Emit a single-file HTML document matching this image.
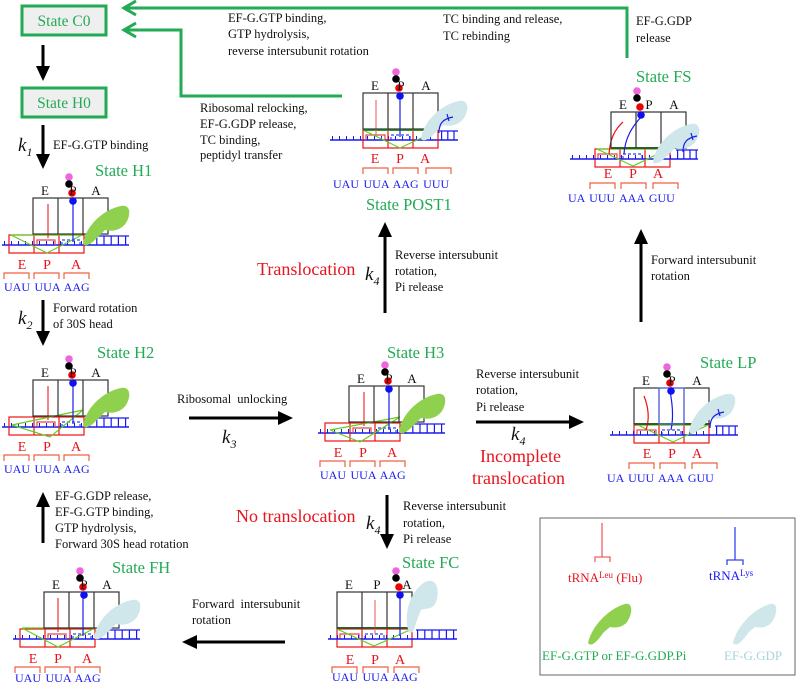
<!DOCTYPE html>
<html><head><meta charset="utf-8"><style>
html,body{margin:0;padding:0;background:#fff;}
svg{display:block;font-family:"Liberation Serif",serif;}
.t{font-size:12.5px;fill:#111;}
.st{font-size:16.5px;fill:#22aa55;}
.red{font-size:18px;fill:#e8141e;}
.k{font-size:19px;font-style:italic;fill:#111;}
.ks{font-size:12px;fill:#111;}
.lab{font-size:14px;fill:#e8141e;text-anchor:middle;}
.cod{font-size:12px;fill:#1a1aee;word-spacing:1.5px;}
.epa{font-size:13px;fill:#111;text-anchor:middle;}
</style></head><body>
<svg width="796" height="686" viewBox="0 0 796 686" xmlns="http://www.w3.org/2000/svg">
<defs>
<g id="box" fill="none" stroke="#333" stroke-width="1.2"><rect x="0" y="0" width="75" height="36"/><line x1="25" y1="0" x2="25" y2="36"/><line x1="50" y1="0" x2="50" y2="36"/></g>
<g id="balls"><circle cx="36" cy="-21" r="3.8" fill="#ee66dd"/><circle cx="36" cy="-14" r="3.8" fill="#000"/><circle cx="39" cy="-5" r="3.8" fill="#ee0000"/><circle cx="40" cy="3" r="3.8" fill="#1010ee"/></g>
<path id="blob" d="M50,46 C52,30 68,12 88,8 C98,6 98,17 93,25 C88,32 80,34 72,32 L66,38 C60,44 54,50 50,46Z"/>
<g id="brk" fill="none" stroke="#f06040" stroke-width="1.2"><path d="M-29,81 V75 H-4 V81 M1,81 V75 H26 V81 M31,81 V75 H56 V81"/></g>
<g id="mrnaH" stroke="#1a1aee" fill="none"><line x1="-31" y1="47" x2="96" y2="47" stroke-width="1.5"/><line x1="-29" y1="45" x2="50" y2="45" stroke-width="4" stroke-dasharray="1 6"/><line x1="56" y1="42.5" x2="97" y2="42.5" stroke-width="9" stroke-dasharray="1.2 6"/><line x1="55" y1="38" x2="96" y2="38" stroke-width="1.2"/></g>
<g id="rectH" fill="none" stroke="#ee1111" stroke-width="1.2"><rect x="-24" y="37" width="75" height="18"/><line x1="1" y1="37" x2="1" y2="55"/><line x1="26" y1="37" x2="26" y2="55"/><path d="M4,47 V42 H22 V47" stroke="#ee4444"/><path d="M29,47 V42 H47 V47" stroke="#3344ee" stroke-dasharray="3 2"/></g>
<g id="rect0" fill="none" stroke="#ee1111" stroke-width="1.2"><rect x="0" y="37" width="75" height="18"/><line x1="25" y1="37" x2="25" y2="55"/><line x1="50" y1="37" x2="50" y2="55"/><path d="M3,47 V42 H22 V47" stroke="#ee4444"/><path d="M28,47 V42 H47 V47" stroke="#3344ee" stroke-dasharray="3 2"/></g>
<g id="mrna0" stroke="#1a1aee" fill="none"><line x1="-33" y1="47" x2="95" y2="47" stroke-width="1.5"/><line x1="-31" y1="45" x2="74" y2="45" stroke-width="4" stroke-dasharray="1 6"/><line x1="78" y1="42.5" x2="95" y2="42.5" stroke-width="9" stroke-dasharray="1.2 5"/><line x1="77" y1="38" x2="95" y2="38" stroke-width="1.2"/></g>
<path id="hook" d="M76,40 C76,30 80,26 90,24 M84,21 L86,28" stroke="#1a1aee" fill="none" stroke-width="1.2"/>
</defs>

<!-- Green boxes -->
<rect x="22" y="6" width="84" height="29" fill="#efefef" stroke="#22aa55" stroke-width="3"/>
<text x="64" y="26" class="st" text-anchor="middle" style="font-size:15.5px">State C0</text>
<rect x="22" y="88" width="84" height="29" fill="#efefef" stroke="#22aa55" stroke-width="3"/>
<text x="64" y="108" class="st" text-anchor="middle" style="font-size:15.5px">State H0</text>

<!-- green connectors -->
<g stroke="#22aa55" stroke-width="3" fill="none">
<polyline points="627,58 627,8 124,8"/><polyline points="136,1 124,8 136,15"/>
<polyline points="342,96 181,96 181,30 124,30"/><polyline points="136,23 124,30 136,37"/>
</g>

<!-- black arrows -->
<g stroke="#000" stroke-width="3">
<line x1="43" y1="45" x2="43" y2="70"/><line x1="43" y1="125" x2="43" y2="158"/>
<line x1="43" y1="300" x2="43" y2="335"/><line x1="43" y1="543" x2="43" y2="503"/>
<line x1="189" y1="418" x2="282" y2="418"/><line x1="387" y1="495" x2="387" y2="538"/>
<line x1="285" y1="642" x2="193" y2="642"/><line x1="476" y1="422" x2="573" y2="422"/>
<line x1="385" y1="313" x2="385" y2="233"/><line x1="641" y1="322" x2="641" y2="240"/>
</g>
<g fill="#000">
<polygon points="36,66 50,66 43,81"/><polygon points="36,154 50,154 43,169"/>
<polygon points="36,331 50,331 43,346"/><polygon points="36,507 50,507 43,492"/>
<polygon points="278,411 278,425 293,418"/><polygon points="380,534 394,534 387,549"/>
<polygon points="197,635 197,649 182,642"/><polygon points="569,415 569,429 584,422"/>
<polygon points="378,237 392,237 385,222"/><polygon points="634,244 648,244 641,229"/>
</g>

<!-- k labels -->
<text x="18" y="151" class="k">k<tspan class="ks" dy="5">1</tspan></text>
<text x="18" y="324" class="k">k<tspan class="ks" dy="5">2</tspan></text>
<text x="222" y="443" class="k">k<tspan class="ks" dy="5">3</tspan></text>
<text x="365" y="280" class="k">k<tspan class="ks" dy="5">4</tspan></text>
<text x="511" y="440" class="k">k<tspan class="ks" dy="5">4</tspan></text>
<text x="366" y="529" class="k">k<tspan class="ks" dy="5">4</tspan></text>

<!-- black text -->
<text x="53" y="149" class="t">EF-G.GTP binding</text>
<text x="53" y="312" class="t">Forward rotation</text><text x="53" y="328" class="t">of 30S head</text>
<text x="177" y="403" class="t" style="word-spacing:3px">Ribosomal unlocking</text>
<text x="55" y="500" class="t">EF-G.GDP release,</text><text x="55" y="516" class="t">EF-G.GTP binding,</text>
<text x="55" y="532" class="t">GTP hydrolysis,</text><text x="55" y="548" class="t">Forward 30S head rotation</text>
<text x="403" y="510" class="t">Reverse intersubunit</text><text x="403" y="527" class="t">rotation,</text><text x="403" y="543" class="t">Pi release</text>
<text x="192" y="608" class="t" style="word-spacing:3px">Forward intersubunit</text><text x="192" y="624" class="t">rotation</text>
<text x="476" y="378" class="t">Reverse intersubunit</text><text x="476" y="394" class="t">rotation,</text><text x="476" y="411" class="t">Pi release</text>
<text x="395" y="259" class="t">Reverse intersubunit</text><text x="395" y="275" class="t">rotation,</text><text x="395" y="291" class="t">Pi release</text>
<text x="651" y="264" class="t">Forward intersubunit</text><text x="651" y="280" class="t">rotation</text>
<text x="228" y="22" class="t">EF-G.GTP binding,</text><text x="228" y="38" class="t">GTP hydrolysis,</text><text x="228" y="55" class="t">reverse intersubunit rotation</text>
<text x="200" y="112" class="t">Ribosomal relocking,</text><text x="200" y="128" class="t">EF-G.GDP release,</text><text x="200" y="144" class="t">TC binding,</text><text x="200" y="159" class="t">peptidyl transfer</text>
<text x="443" y="23" class="t">TC binding and release,</text><text x="443" y="40" class="t">TC rebinding</text>
<text x="636" y="25" class="t">EF-G.GDP</text><text x="636" y="42" class="t">release</text>

<!-- red text -->
<text x="257" y="275" class="red">Translocation</text>
<text x="236" y="522" class="red">No translocation</text>
<text x="480" y="462" class="red">Incomplete</text>
<text x="472" y="484" class="red">translocation</text>

<!-- state labels -->
<text x="95" y="176" class="st">State H1</text>
<text x="97" y="358" class="st">State H2</text>
<text x="387" y="358" class="st">State H3</text>
<text x="700" y="368" class="st">State LP</text>
<text x="636" y="82" class="st">State FS</text>
<text x="366" y="210" class="st">State POST1</text>
<text x="402" y="568" class="st">State FC</text>
<text x="112" y="573" class="st">State FH</text>

<!-- H1 -->
<g transform="translate(33,198)">
<use href="#mrnaH"/><use href="#rectH"/>
<polyline points="-22,37 49,37 14,55 -22,37" fill="none" stroke="#66cc22" stroke-width="1.2"/>
<line x1="15" y1="6" x2="15" y2="40" stroke="#ee3333" stroke-width="1.2"/><line x1="40" y1="3" x2="40" y2="44" stroke="#1a1aee" stroke-width="1.2"/>
<use href="#box"/><use href="#blob" fill="#8fd14f"/><use href="#balls"/>
<text x="12" y="-3" class="epa">E</text><text x="40" y="-3" class="epa">P</text><text x="63" y="-3" class="epa">A</text>
<text x="-11" y="71" class="lab">E</text><text x="14" y="71" class="lab">P</text><text x="43" y="71" class="lab">A</text>
<use href="#brk"/><text x="-29" y="93" class="cod">UAU UUA AAG</text>
</g>
<!-- H2 -->
<g transform="translate(33,380)">
<use href="#mrnaH"/><use href="#rectH"/>
<polyline points="-21,45 50,30 17,57 -21,45" fill="none" stroke="#66cc22" stroke-width="1.2"/>
<line x1="15" y1="6" x2="15" y2="40" stroke="#ee3333" stroke-width="1.2"/><line x1="40" y1="3" x2="40" y2="44" stroke="#1a1aee" stroke-width="1.2"/>
<use href="#box"/><use href="#blob" fill="#8fd14f"/><use href="#balls"/>
<text x="12" y="-3" class="epa">E</text><text x="40" y="-3" class="epa">P</text><text x="63" y="-3" class="epa">A</text>
<text x="-11" y="71" class="lab">E</text><text x="14" y="71" class="lab">P</text><text x="43" y="71" class="lab">A</text>
<use href="#brk"/><text x="-29" y="93" class="cod">UAU UUA AAG</text>
</g>
<!-- H3 -->
<g transform="translate(349,386)">
<use href="#mrnaH"/><use href="#rectH"/>
<polyline points="-19,44 51,31 11,56 -19,44" fill="none" stroke="#66cc22" stroke-width="1.2"/>
<line x1="15" y1="6" x2="15" y2="40" stroke="#ee3333" stroke-width="1.2"/><line x1="40" y1="3" x2="40" y2="44" stroke="#1a1aee" stroke-width="1.2"/>
<use href="#box"/><use href="#blob" fill="#8fd14f"/><use href="#balls"/>
<text x="12" y="-3" class="epa">E</text><text x="40" y="-3" class="epa">P</text><text x="63" y="-3" class="epa">A</text>
<text x="-11" y="71" class="lab">E</text><text x="14" y="71" class="lab">P</text><text x="43" y="71" class="lab">A</text>
<use href="#brk"/><text x="-29" y="93" class="cod">UAU UUA AAG</text>
</g>
<!-- FH -->
<g transform="translate(44,592)">
<use href="#mrnaH"/><use href="#rectH"/>
<polyline points="-22,36 51,36 14,55 -22,36" fill="none" stroke="#66cc22" stroke-width="1.2"/>
<line x1="14" y1="6" x2="14" y2="40" stroke="#ee3333" stroke-width="1.2"/><line x1="39" y1="3" x2="39" y2="44" stroke="#1a1aee" stroke-width="1.2"/>
<use href="#box"/><use href="#blob" fill="#cfe7ea"/><use href="#balls"/>
<text x="12" y="-3" class="epa">E</text><text x="40" y="-3" class="epa">P</text><text x="63" y="-3" class="epa">A</text>
<text x="-11" y="71" class="lab">E</text><text x="14" y="71" class="lab">P</text><text x="43" y="71" class="lab">A</text>
<use href="#brk"/><text x="-29" y="90" class="cod">UAU UUA AAG</text>
</g>
<!-- POST1 -->
<g transform="translate(363,93)">
<use href="#mrna0"/><use href="#rect0"/>
<polyline points="0,37 37,55 75,37" fill="none" stroke="#66cc22" stroke-width="1.2"/>
<line x1="0" y1="37" x2="75" y2="37" stroke="#2a9a2a" stroke-width="2"/>
<line x1="13" y1="7" x2="13" y2="42" stroke="#f07070" stroke-width="1.2"/><line x1="37" y1="3" x2="37" y2="44" stroke="#1a1aee" stroke-width="1.2"/>
<use href="#box"/><use href="#blob" fill="#cfe7ea" transform="translate(8,0)"/><use href="#hook"/><use href="#balls" transform="translate(-3,0)"/>
<text x="12" y="-3" class="epa">E</text><text x="38" y="-3" class="epa">P</text><text x="63" y="-3" class="epa">A</text>
<text x="12" y="70" class="lab">E</text><text x="37" y="70" class="lab">P</text><text x="62" y="70" class="lab">A</text>
<g fill="none" stroke="#f06040" stroke-width="1.2"><path d="M0,81 V75 H25 V81 M30,81 V75 H55 V81 M63,81 V75 H88 V81"/></g>
<text x="-30" y="95" class="cod">UAU UUA AAG UUU</text>
</g>
<!-- FS -->
<g transform="translate(611,112)">
<g transform="translate(-16,0)"><use href="#rect0"/></g>
<line x1="-41" y1="47" x2="87" y2="47" stroke="#1a1aee" stroke-width="1.5"/>
<line x1="-39" y1="45" x2="60" y2="45" stroke="#1a1aee" stroke-width="4" stroke-dasharray="1 6"/>
<line x1="66" y1="42.5" x2="87" y2="42.5" stroke="#1a1aee" stroke-width="9" stroke-dasharray="1.2 5"/>
<line x1="65" y1="38" x2="87" y2="38" stroke="#1a1aee" stroke-width="1.2"/>
<polyline points="-14,37 22,54 57,37 -14,37" fill="none" stroke="#66cc22" stroke-width="1.2"/>
<line x1="0" y1="36" x2="60" y2="36" stroke="#2a9a2a" stroke-width="2"/>
<path d="M-2,42 C-1,28 3,18 12,10" stroke="#ee1111" fill="none" stroke-width="1.2"/>
<path d="M13,42 C14,25 22,14 30,5" stroke="#1a1aee" fill="none" stroke-width="1.2"/>
<use href="#box"/><use href="#blob" fill="#cfe7ea" transform="translate(-8,4)"/><use href="#hook" transform="translate(-4,0)"/><use href="#balls" transform="translate(-10,0)"/>
<text x="12" y="-3" class="epa">E</text><text x="38" y="-3" class="epa">P</text><text x="63" y="-3" class="epa">A</text>
<text x="-3" y="66" class="lab">E</text><text x="22" y="66" class="lab">P</text><text x="47" y="66" class="lab">A</text>
<g fill="none" stroke="#f06040" stroke-width="1.2"><path d="M-21,77 V71 H4 V77 M10,77 V71 H35 V77 M42,77 V71 H67 V77"/></g>
<text x="-43" y="90" class="cod">UA UUU AAA GUU</text>
</g>
<!-- LP -->
<g transform="translate(634,388)">
<use href="#rect0"/>
<line x1="-24" y1="47" x2="104" y2="47" stroke="#1a1aee" stroke-width="1.5"/>
<line x1="-22" y1="45" x2="76" y2="45" stroke="#1a1aee" stroke-width="4" stroke-dasharray="1 6"/>
<line x1="82" y1="42.5" x2="104" y2="42.5" stroke="#1a1aee" stroke-width="9" stroke-dasharray="1.2 5"/>
<line x1="81" y1="38" x2="104" y2="38" stroke="#1a1aee" stroke-width="1.2"/>
<polyline points="4,37 39,54 74,37 4,37" fill="none" stroke="#66cc22" stroke-width="1.2"/>
<line x1="0" y1="36" x2="76" y2="36" stroke="#2a9a2a" stroke-width="2"/>
<path d="M12,42 C16,30 14,18 10,8" stroke="#ee1111" fill="none" stroke-width="1.2"/>
<path d="M37,42 C40,28 38,14 36,3" stroke="#1a1aee" fill="none" stroke-width="1.2"/>
<use href="#box"/><rect x="25" y="0" width="25" height="36" fill="none" stroke="#5566ee" stroke-width="1.2"/>
<use href="#blob" fill="#cfe7ea" transform="translate(5,-2)"/><use href="#hook" transform="translate(0,0)"/><use href="#balls" transform="translate(-3,0)"/>
<text x="12" y="-3" class="epa">E</text><text x="38" y="-3" class="epa">P</text><text x="63" y="-3" class="epa">A</text>
<text x="13" y="70" class="lab">E</text><text x="38" y="70" class="lab">P</text><text x="63" y="70" class="lab">A</text>
<g fill="none" stroke="#f06040" stroke-width="1.2"><path d="M-5,81 V75 H20 V81 M26,81 V75 H51 V81 M58,81 V75 H83 V81"/></g>
<text x="-27" y="94" class="cod">UA UUU AAA GUU</text>
</g>
<!-- FC -->
<g transform="translate(337,592)">
<use href="#rect0"/>
<line x1="-9" y1="47" x2="120" y2="47" stroke="#1a1aee" stroke-width="1.5"/>
<line x1="-7" y1="45" x2="76" y2="45" stroke="#1a1aee" stroke-width="4" stroke-dasharray="1 6"/>
<line x1="80" y1="42.5" x2="120" y2="42.5" stroke="#1a1aee" stroke-width="9" stroke-dasharray="1.2 6"/>
<line x1="79" y1="38" x2="120" y2="38" stroke="#1a1aee" stroke-width="1.2"/>
<polyline points="0,37 37,54 75,37" fill="none" stroke="#66cc22" stroke-width="1.2"/>
<line x1="0" y1="36" x2="75" y2="36" stroke="#2a9a2a" stroke-width="2"/>
<line x1="38" y1="8" x2="38" y2="42" stroke="#f07070" stroke-width="1.2"/><line x1="63" y1="3" x2="63" y2="44" stroke="#1a1aee" stroke-width="1.2"/>
<use href="#box"/>
<path d="M72,40 C66,25 72,0 88,-10 C100,-16 104,0 98,12 C94,18 88,16 84,18 L80,28 C78,36 75,44 72,40Z" fill="#cfe7ea"/>
<use href="#balls" transform="translate(23,0)"/>
<text x="12" y="-3" class="epa">E</text><text x="40" y="-3" class="epa">P</text><text x="70" y="-3" class="epa">A</text>
<text x="13" y="72" class="lab">E</text><text x="38" y="72" class="lab">P</text><text x="63" y="72" class="lab">A</text>
<g fill="none" stroke="#f06040" stroke-width="1.2"><path d="M-5,81 V75 H20 V81 M26,81 V75 H51 V81 M57,81 V75 H82 V81"/></g>
<text x="-5" y="89" class="cod">UAU UUA AAG</text>
</g>

<!-- legend -->
<rect x="540" y="518" width="255" height="157" fill="none" stroke="#666" stroke-width="1"/>
<line x1="602" y1="523" x2="602" y2="557" stroke="#f06060" stroke-width="1.3"/>
<path d="M595,562 V557 H610 V562" fill="none" stroke="#f06060" stroke-width="1.3"/>
<text x="568" y="582" style="font-size:13px;fill:#e8141e">tRNA<tspan style="font-size:9px" dy="-4">Leu</tspan><tspan dy="4"> (Flu)</tspan></text>
<line x1="735" y1="527" x2="735" y2="560" stroke="#3344ee" stroke-width="1.3"/>
<path d="M727,565 V560 H743 V565" fill="none" stroke="#3344ee" stroke-width="1.3"/>
<text x="709" y="580" style="font-size:13px;fill:#1a1aee">tRNA<tspan style="font-size:9px" dy="-4">Lys</tspan></text>
<path d="M588,643 C592,625 610,608 625,604 C634,602 632,615 627,622 C622,628 615,628 610,627 L604,632 C598,640 592,648 588,643Z" fill="#8fd14f"/>
<text x="542" y="660" style="font-size:13px;fill:#22aa55">EF-G.GTP or EF-G.GDP.Pi</text>
<path d="M733,643 C737,625 755,608 770,604 C779,602 777,615 772,622 C767,628 760,628 755,627 L749,632 C743,640 737,648 733,643Z" fill="#cfe7ea"/>
<text x="724" y="660" style="font-size:13px;fill:#a8d4da">EF-G.GDP</text>
</svg>
</body></html>
